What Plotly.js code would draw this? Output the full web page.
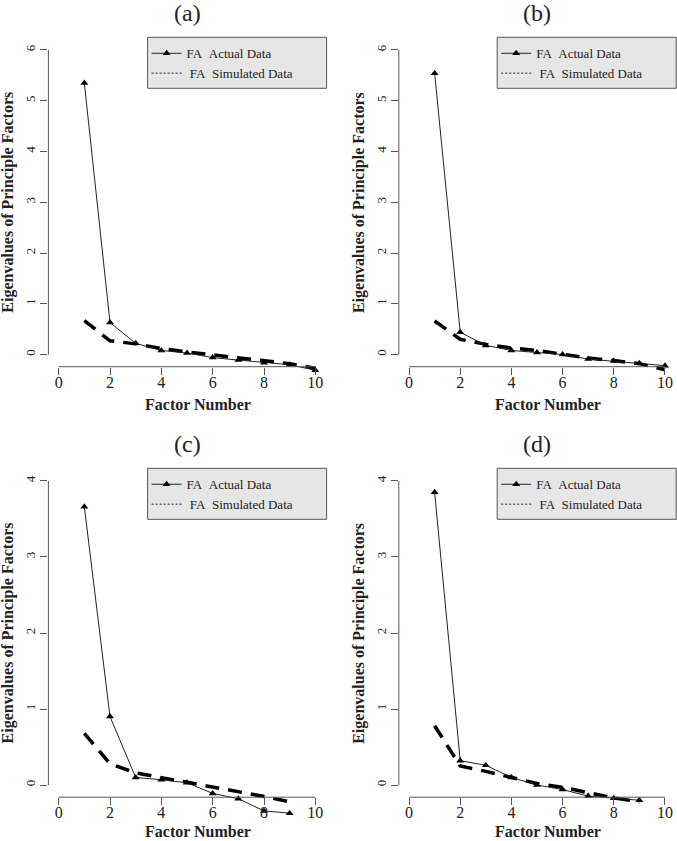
<!DOCTYPE html>
<html>
<head>
<meta charset="utf-8">
<script src="https://cdn.plot.ly/plotly-3.0.1.min.js"></script>
<style>html,body{margin:0;padding:0;background:#fff;}#chart{width:677px;height:841px;}</style>
</head>
<body>
<div id="chart"></div>
<script>
// ---- data ----
const panelLabels = ["(a)", "(b)", "(c)", "(d)"];
const xTitle = "Factor Number";
const yTitle = "Eigenvalues of Principle Factors";
const legendActual = "FA\u00a0\u00a0Actual Data";
const legendSimulated = "\u00a0FA\u00a0\u00a0Simulated Data";

const factorsA = [1, 2, 3, 4, 5, 6, 7, 8, 9, 10];
const actualA = [5.35, 0.63, 0.22, 0.08, 0.03, -0.06, -0.11, -0.16, -0.20, -0.31];
const simA    = [0.67, 0.27, 0.21, 0.12, 0.05, -0.01, -0.07, -0.12, -0.18, -0.27];

const factorsB = [1, 2, 3, 4, 5, 6, 7, 8, 9, 10];
const actualB = [5.54, 0.44, 0.18, 0.08, 0.04, 0.00, -0.09, -0.13, -0.17, -0.22];
const simB    = [0.66, 0.30, 0.20, 0.13, 0.08, 0.01, -0.07, -0.12, -0.18, -0.30];

const factorsC = [1, 2, 3, 4, 5, 6, 7, 8, 9];
const actualC = [3.66, 0.90, 0.10, 0.07, 0.03, -0.11, -0.18, -0.34, -0.37];
const simC    = [0.68, 0.28, 0.16, 0.10, 0.04, -0.02, -0.09, -0.15, -0.22];

const factorsD = [1, 2, 3, 4, 5, 6, 7, 8, 9];
const actualD = [3.85, 0.32, 0.26, 0.10, 0.00, -0.06, -0.145, -0.175, -0.20];
const simD    = [0.78, 0.25, 0.18, 0.10, 0.02, -0.03, -0.10, -0.17, -0.22];

const xTicks = [0, 2, 4, 6, 8, 10];
const yTicksTop = [0, 1, 2, 3, 4, 5, 6];
const yTicksBottom = [0, 1, 2, 3, 4];

// ---- layout helpers ----
const W = 677, H = 841;
const px = v => v / W;
const py = v => 1 - v / H;
const FONT = "Liberation Serif, Times New Roman, serif";
const AX = "#555";
const TXT = "#222";
const EXT = 30; // extra px below the R plot region so low points are not clipped

const panels = [
  {f: factorsA, a: actualA, s: simA, yt: yTicksTop,    xd: [48.4, 325.6], yd: [37.8, 366.7]},
  {f: factorsB, a: actualB, s: simB, yt: yTicksTop,    xd: [398.8, 675.2], yd: [37.8, 366.7]},
  {f: factorsC, a: actualC, s: simC, yt: yTicksBottom, xd: [48.4, 325.6], yd: [468.8, 797.2]},
  {f: factorsD, a: actualD, s: simD, yt: yTicksBottom, xd: [398.8, 675.2], yd: [468.8, 797.2]}
];

const data = [];
const layout = {
  width: W, height: H,
  margin: {l: 0, r: 0, t: 0, b: 0},
  paper_bgcolor: "#fff", plot_bgcolor: "rgba(0,0,0,0)",
  font: {family: FONT, color: TXT},
  showlegend: true,
  shapes: [], annotations: []
};

panels.forEach((p, i) => {
  const n = i === 0 ? "" : String(i + 1);
  const xa = "x" + n, ya = "y" + n;
  const xl = "x" + (i + 5);
  const lg = "legend" + n;
  const y0t = p.yt[0], yMax = p.yt[p.yt.length - 1];
  const yPad = 0.04 * (yMax - y0t);
  const xMin = xTicks[0], xMax = xTicks[xTicks.length - 1];
  const xPad = 0.04 * (xMax - xMin);
  const scale = (p.yd[1] - p.yd[0]) / ((yMax + yPad) - (y0t - yPad));
  const xRange = [xMin - xPad, xMax + xPad];

  // axis carrying the tick marks
  layout["xaxis" + n] = {
    domain: [px(p.xd[0]), px(p.xd[1])], anchor: "free", position: py(p.yd[1]),
    range: xRange,
    tickmode: "array", tickvals: xTicks, showticklabels: false,
    showline: false, showgrid: false, zeroline: false,
    ticks: "outside", ticklen: 7, tickcolor: AX, tickwidth: 1
  };
  // overlaid axis carrying only the tick labels (R puts them close to the ticks)
  layout["xaxis" + (i + 5)] = {
    domain: [px(p.xd[0]), px(p.xd[1])], anchor: "free", position: py(p.yd[1] + 4),
    overlaying: xa, range: xRange,
    tickmode: "array", tickvals: xTicks, ticktext: xTicks.map(String),
    showline: false, showgrid: false, zeroline: false, ticks: "",
    tickfont: {family: FONT, size: 16, color: TXT}
  };
  layout["yaxis" + n] = {
    domain: [py(p.yd[1] + EXT), py(p.yd[0])], anchor: xa,
    range: [y0t - yPad - EXT / scale, yMax + yPad],
    tickmode: "array", tickvals: p.yt, ticktext: p.yt.map(String),
    tickangle: -90,
    showline: false, showgrid: false, zeroline: false,
    ticks: "outside", ticklen: 7, tickcolor: AX, tickwidth: 1,
    tickfont: {family: FONT, size: 13, color: TXT}
  };

  // R-style axis lines spanning first..last tick
  layout.shapes.push({type: "line", xref: xa, yref: "paper",
    x0: xMin, x1: xMax, y0: py(p.yd[1]), y1: py(p.yd[1]), line: {color: AX, width: 1}});
  layout.shapes.push({type: "line", xref: xa + " domain", yref: ya,
    x0: 0, x1: 0, y0: y0t, y1: yMax, line: {color: AX, width: 1}});

  // legend box
  const bx0 = p.xd[1] - 178, by0 = p.yd[0] - 0.5;
  layout.shapes.push({type: "rect", xref: "paper", yref: "paper", layer: "above",
    x0: px(bx0), x1: px(Math.min(bx0 + 179, W - 0.5)), y0: py(by0), y1: py(by0 + 51),
    fillcolor: "#e6e6e6", line: {color: "#555", width: 1}});
  layout[lg] = {
    x: px(bx0 - 1), y: py(by0 + 1), xanchor: "left", yanchor: "top",
    bgcolor: "rgba(0,0,0,0)", borderwidth: 0,
    font: {family: FONT, size: 13, color: TXT},
    tracegroupgap: 0, itemwidth: 30
  };

  // simulated (thick dashed)
  data.push({type: "scatter", mode: "lines", x: p.f, y: p.s, xaxis: xa, yaxis: ya,
    line: {color: "#000", width: 3.5, dash: "14px,9px"}, showlegend: false,
    cliponaxis: false, hoverinfo: "skip"});
  // actual (triangles)
  data.push({type: "scatter", mode: "lines+markers", x: p.f, y: p.a, xaxis: xa, yaxis: ya,
    line: {color: "#222", width: 1}, marker: {symbol: "triangle-up", size: 7, color: "#000"},
    showlegend: false, cliponaxis: false, hoverinfo: "skip"});
  // empty trace so the label axis is drawn
  data.push({type: "scatter", mode: "markers", x: [null], y: [null], xaxis: xl, yaxis: ya,
    showlegend: false, hoverinfo: "skip"});
  // legend entries
  data.push({type: "scatter", mode: "lines+markers", x: [null], y: [null], xaxis: xa, yaxis: ya,
    name: legendActual, legend: lg,
    line: {color: "#222", width: 1}, marker: {symbol: "triangle-up", size: 7, color: "#000"}});
  data.push({type: "scatter", mode: "lines", x: [null], y: [null], xaxis: xa, yaxis: ya,
    name: legendSimulated, legend: lg,
    line: {color: "#222", width: 1, dash: "2px,2px"}});

  // panel title
  const cx = (p.xd[0] + p.xd[1]) / 2;
  layout.annotations.push({xref: "paper", yref: "paper", x: px(cx), y: py(p.yd[0] - 25),
    text: panelLabels[i], showarrow: false, xanchor: "center", yanchor: "middle",
    font: {family: FONT, size: 24, color: TXT}});
  // x title (kept inside the page at the bottom)
  const titleY = Math.min(p.yd[1] + 37.5, H - 10);
  layout.annotations.push({xref: "paper", yref: "paper", x: px(cx + 11), y: py(titleY),
    text: "<b>" + xTitle + "</b>", showarrow: false, xanchor: "center", yanchor: "middle",
    borderpad: 0,
    font: {family: FONT, size: 16, color: TXT}});
  // y title
  layout.annotations.push({xref: "paper", yref: "paper", x: px(p.xd[0] - 40),
    y: py((p.yd[0] + p.yd[1]) / 2),
    text: "<b>" + yTitle + "</b>", showarrow: false, textangle: -90,
    xanchor: "center", yanchor: "middle",
    font: {family: FONT, size: 16, color: TXT}});
});

Plotly.newPlot("chart", data, layout, {displayModeBar: false, staticPlot: true});
</script>
</body>
</html>
